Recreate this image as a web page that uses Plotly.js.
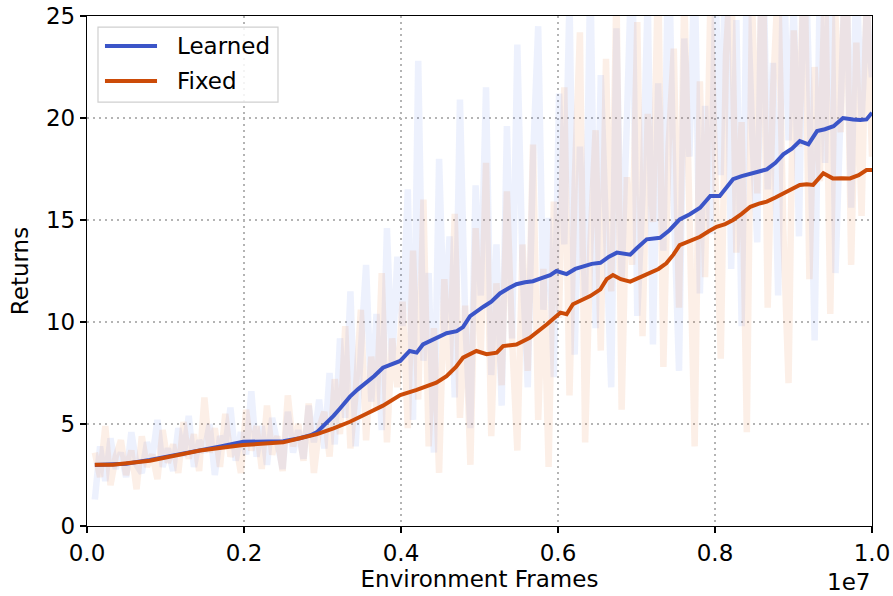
<!DOCTYPE html>
<html>
<head>
<meta charset="utf-8">
<script src="https://cdn.plot.ly/plotly-3.0.1.min.js"></script>
<style>html,body{margin:0;padding:0;background:#fff;}#chart{width:893px;height:596px;}</style>
</head>
<body>
<div id="chart"></div>
<script>
// Smoothed curves (x in units of 1e7 frames)
const learnedX = [0.01,0.03,0.05,0.08,0.10,0.12,0.144,0.17,0.199,0.229,0.25,0.271,0.285,0.293,0.303,0.314,0.322,0.335,0.345,0.356,0.366,0.377,0.388,0.399,0.411,0.42,0.428,0.441,0.458,0.471,0.479,0.488,0.495,0.505,0.515,0.526,0.537,0.547,0.558,0.568,0.579,0.590,0.598,0.611,0.622,0.632,0.643,0.654,0.665,0.675,0.692,0.700,0.713,0.730,0.742,0.755,0.768,0.781,0.794,0.806,0.815,0.823,0.834,0.845,0.856,0.866,0.877,0.887,0.898,0.908,0.919,0.930,0.940,0.951,0.963,0.976,0.985,0.993,1.0];
const learnedY = [2.99,3.0,3.05,3.24,3.38,3.52,3.73,3.9,4.13,4.13,4.15,4.3,4.45,4.6,4.95,5.4,5.75,6.34,6.7,7.03,7.35,7.76,7.9,8.09,8.58,8.5,8.9,9.12,9.45,9.55,9.75,10.29,10.5,10.75,11.0,11.4,11.65,11.85,11.95,12.0,12.15,12.3,12.5,12.35,12.6,12.71,12.85,12.9,13.2,13.4,13.3,13.6,14.05,14.13,14.5,15.03,15.28,15.6,16.18,16.18,16.6,17.0,17.15,17.24,17.38,17.48,17.8,18.22,18.5,18.87,18.71,19.36,19.45,19.6,20.0,19.93,19.9,19.93,20.26];
const fixedX = [0.01,0.033,0.08,0.144,0.199,0.229,0.25,0.271,0.293,0.314,0.335,0.356,0.377,0.399,0.42,0.445,0.458,0.47,0.479,0.496,0.509,0.522,0.530,0.547,0.564,0.586,0.603,0.611,0.619,0.641,0.654,0.662,0.670,0.680,0.692,0.705,0.717,0.728,0.738,0.747,0.755,0.768,0.781,0.792,0.802,0.813,0.823,0.834,0.845,0.856,0.866,0.877,0.887,0.898,0.908,0.917,0.925,0.938,0.950,0.961,0.972,0.983,0.993,1.0];
const fixedY = [3.0,3.0,3.2,3.7,3.97,4.05,4.1,4.3,4.5,4.79,5.11,5.5,5.9,6.42,6.67,7.03,7.35,7.8,8.25,8.58,8.42,8.5,8.82,8.9,9.23,9.89,10.46,10.38,10.87,11.27,11.6,12.1,12.3,12.1,11.98,12.2,12.39,12.6,12.88,13.3,13.77,14.0,14.18,14.45,14.67,14.8,15.0,15.3,15.65,15.8,15.9,16.1,16.3,16.5,16.72,16.75,16.72,17.29,17.04,17.05,17.04,17.2,17.45,17.45];

// Raw (unsmoothed) returns, evenly logged from 0.01e7 to 1.0e7
const rawLearned = [
 1.3,3.9,2.2,4.3,2.8,3.6,2.4,4.6,3.0,2.6,4.1,3.3,5.2,2.9,3.8,
 2.7,4.8,3.4,5.4,2.9,4.2,3.6,5.0,2.5,4.4,3.9,5.8,3.2,4.6,3.5,
 6.6,3.4,4.9,3.0,5.3,4.0,2.8,5.6,3.6,4.7,3.3,5.9,4.1,6.2,3.8,
 7.5,4.0,9.2,5.3,11.5,3.9,8.6,12.8,6.1,10.4,4.7,14.6,7.9,13.2,9.8,
 16.5,5.2,22.8,8.1,12.4,3.6,18.0,9.5,14.2,6.3,
 20.9,10.1,4.8,16.7,11.3,21.5,7.4,13.8,5.9,19.6,
 9.2,23.6,12.7,6.8,17.9,24.5,10.6,15.1,7.3,21.2,
 13.8,25.9,8.4,18.6,11.2,27.3,9.7,22.1,14.9,6.8,
 24.4,12.1,19.8,28.6,10.3,16.2,26.0,8.9,21.7,13.5,
 29.2,15.8,7.6,23.9,18.1,27.8,11.4,20.6,14.3,26.5,
 17.2,29.5,12.6,24.8,9.8,27.1,19.4,13.9,30.0,16.5,
 22.7,11.3,28.4,18.9,25.6,14.2,29.8,21.3,9.1,26.9,
 17.8,30.5,12.4,24.1,28.7,15.6,27.2,19.9,25.3,22.0
];
const rawFixed = [
 3.6,2.4,4.9,2.0,3.4,4.2,2.5,3.7,1.8,4.4,2.9,3.5,2.3,4.7,3.1,
 4.0,2.6,5.1,3.3,4.5,2.7,6.3,3.6,4.8,2.9,5.5,3.4,4.1,2.6,5.7,
 3.7,4.9,2.8,5.9,3.5,4.4,2.7,6.4,3.9,5.0,3.2,6.0,2.6,4.8,5.6,
 3.4,7.2,4.5,9.8,3.8,6.5,10.6,4.2,8.3,5.7,12.4,4.1,9.2,6.8,11.0,
 4.8,13.5,6.2,16.0,3.9,9.7,2.6,12.1,7.4,15.3,
 5.3,10.8,3.0,14.6,8.5,17.8,4.4,11.9,6.9,16.4,
 9.1,3.7,13.8,7.6,18.7,5.2,12.6,2.9,15.9,10.2,
 21.5,6.4,16.8,24.2,4.1,13.7,19.4,8.6,22.9,11.5,
 26.3,5.7,17.1,12.8,24.7,9.3,20.2,14.9,27.5,7.8,
 18.6,23.4,10.7,26.1,15.3,3.9,21.8,12.2,25.6,17.4,
 8.2,23.1,27.6,13.4,19.8,4.6,25.9,16.3,29.4,10.7,
 21.2,26.8,14.5,7.0,24.3,18.6,28.9,12.1,22.5,16.9,
 27.2,10.4,25.0,19.3,29.6,12.8,23.7,15.2,26.4,18.1
];
const seriesNames = ["Learned", "Fixed"];
const xTicks = [0, 0.2, 0.4, 0.6, 0.8, 1.0];
const xTickText = ["0.0", "0.2", "0.4", "0.6", "0.8", "1.0"];
const yTicks = [0, 5, 10, 15, 20, 25];

const rawX = rawLearned.map((_, i) => 0.01 + i * 0.99 / (rawLearned.length - 1));

const BLUE = "#3b55c8";
const ORANGE = "#cc4b08";
const COLORS = [BLUE, ORANGE];
const FONT = "DejaVu Sans, sans-serif";
const FS = 23;

const traces = [
  {x: rawX, y: rawLearned, mode: "lines", line: {color: "rgba(59,95,230,0.09)", width: 6.5}, showlegend: false, hoverinfo: "skip"},
  {x: rawX, y: rawFixed, mode: "lines", line: {color: "rgba(230,110,40,0.11)", width: 6.5}, showlegend: false, hoverinfo: "skip"},
  {x: learnedX, y: learnedY, mode: "lines", name: seriesNames[0], line: {color: BLUE, width: 4}, showlegend: false},
  {x: fixedX, y: fixedY, mode: "lines", name: seriesNames[1], line: {color: ORANGE, width: 4}, showlegend: false}
];

const axisCommon = {
  showline: true, linecolor: "#000", linewidth: 1.2, mirror: true,
  ticks: "outside", ticklen: 6, tickwidth: 1.2, tickcolor: "#000",
  showgrid: true, gridcolor: "#b4b4b4", gridwidth: 2, griddash: "2px,4px",
  zeroline: false, tickfont: {family: FONT, size: FS, color: "#000"}
};

// Legend box drawn in paper coordinates (matplotlib-style legend)
const legBox = {x0: 0.014, x1: 0.2433, y0: 0.831, y1: 0.978};
const legRowY = [0.941, 0.8725];
const shapes = [{
  type: "rect", xref: "paper", yref: "paper",
  x0: legBox.x0, x1: legBox.x1, y0: legBox.y0, y1: legBox.y1,
  line: {color: "#d0d0d0", width: 1.2}, fillcolor: "rgba(255,255,255,0.85)", layer: "above"
}];
const annotations = [];
seriesNames.forEach((name, k) => {
  shapes.push({type: "line", xref: "paper", yref: "paper", x0: 0.0229, x1: 0.0892,
    y0: legRowY[k], y1: legRowY[k], line: {color: COLORS[k], width: 4}, layer: "above"});
  annotations.push({xref: "paper", yref: "paper", x: 0.1121, y: legRowY[k], xanchor: "left", yanchor: "middle",
    text: name, showarrow: false, font: {family: FONT, size: FS, color: "#000"}});
});
annotations.push({
  xref: "paper", yref: "paper", x: 1, y: -0.11, xanchor: "right", yanchor: "middle",
  text: "1e7", showarrow: false, font: {family: FONT, size: FS, color: "#000"}
});

const layout = {
  width: 893, height: 596,
  margin: {l: 87, r: 21, t: 16, b: 70},
  paper_bgcolor: "#fff", plot_bgcolor: "#fff",
  font: {family: FONT, size: FS, color: "#000"},
  xaxis: Object.assign({}, axisCommon, {
    range: [0, 1], tickvals: xTicks, ticktext: xTickText,
    title: {text: "Environment Frames", font: {family: FONT, size: FS}, standoff: 6}
  }),
  yaxis: Object.assign({}, axisCommon, {
    range: [0, 25], tickvals: yTicks,
    title: {text: "Returns", font: {family: FONT, size: FS}, standoff: 10}
  }),
  shapes: shapes,
  annotations: annotations,
  showlegend: false
};

Plotly.newPlot("chart", traces, layout, {displayModeBar: false, staticPlot: true});
</script>
</body>
</html>
